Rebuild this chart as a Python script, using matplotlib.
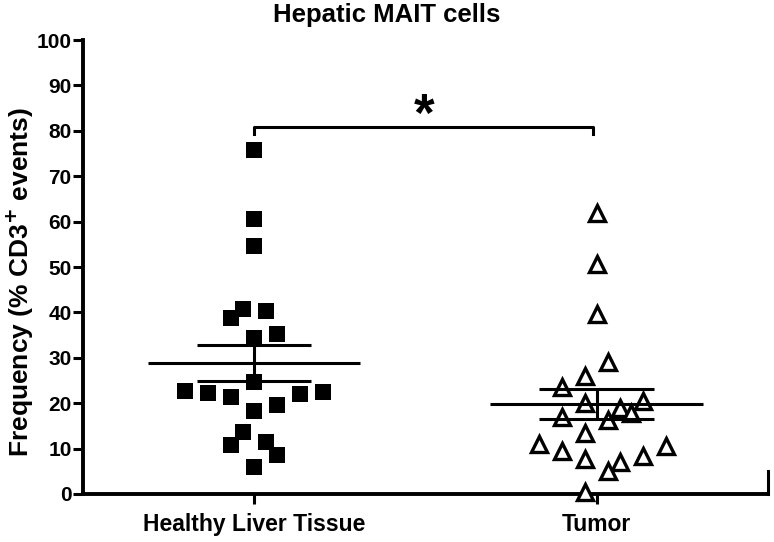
import numpy as np
import matplotlib
matplotlib.use('Agg')
import matplotlib.pyplot as plt

plt.rcParams['font.family'] = ['Liberation Sans', 'DejaVu Sans']
plt.rcParams['font.weight'] = 'bold'

groups = ['Healthy Liver Tissue', 'Tumor']

healthy = [75.8, 60.6, 54.6, 40.7, 38.8, 40.3, 35.2, 34.4, 24.7, 22.7, 22.2,
           21.4, 22.0, 22.5, 19.6, 18.3, 13.7, 10.8, 11.5, 8.6, 5.9]
# column slot of each point in the scatter (GraphPad style spread)
healthy_slot = [0, 0, 0, -1, -2, 1, 2, 0, 0, -6, -4,
                -2, 4, 6, 2, 0, -1, -2, 1, 2, 0]

tumor = [61.9, 50.7, 39.6, 29.1, 26.0, 23.6, 20.0, 17.0, 18.9, 17.8, 20.5,
         16.3, 13.4, 11.0, 9.5, 7.7, 7.0, 5.1, 8.4, 10.6, 0.4]
tumor_slot = [0, 0, 0, 1, -1, -3, -1, -3, 2, 3, 4,
              1, -1, -5, -3, -1, 2, 1, 4, 6, -1]

yticks = [0, 10, 20, 30, 40, 50, 60, 70, 80, 90, 100]

step = 0.0336

fig = plt.figure(figsize=(7.74, 5.42), dpi=100)
ax = fig.add_axes([0.107, 0.0886, 0.885, 0.8374])

for i, (vals, slots, mk, fc) in enumerate([(healthy, healthy_slot, 's', 'black'),
                                           (tumor, tumor_slot, '^', 'white')]):
    x = i + np.array(slots) * step
    ax.plot(x, vals, linestyle='none', marker=mk, markersize=11 if mk == 's' else 11.5,
            markerfacecolor=fc, markeredgecolor='black', markeredgewidth=0 if mk == 's' else 2.4,
            zorder=3, clip_on=False)
    v = np.array(vals)
    m = v.mean()
    sem = v.std(ddof=1) / np.sqrt(len(v))
    ax.hlines(m, i - 0.31, i + 0.31, color='black', lw=2.2, zorder=4)
    ax.hlines([m - sem, m + sem], i - 0.167, i + 0.167, color='black', lw=2.2, zorder=4)
    ax.vlines(i, m - sem, m + sem, color='black', lw=2.2, zorder=4)

# significance bracket
ax.plot([0, 0, 0.99, 0.99], [79.3, 80.8, 80.8, 79.3], color='black', lw=2.2)
ax.text(0.497, 83.0, '*', ha='center', va='center', fontsize=38, fontweight='bold')

ax.set_xlim(-0.5, 1.5)
ax.set_ylim(0, 100)
ax.set_xticks([0, 1])
ax.set_xticklabels(groups, fontsize=16.5, fontweight='bold')
ax.set_yticks(yticks)
ax.set_yticklabels([str(t) for t in yticks], fontsize=15, fontweight='bold')
ax.axvline(1.5, ymin=0, ymax=0.05, color='black', lw=2.2, clip_on=False)

for s in ['top', 'right']:
    ax.spines[s].set_visible(False)
for s in ['left', 'bottom']:
    ax.spines[s].set_linewidth(2.8)
ax.tick_params(axis='both', width=2.2, length=7, pad=1)
ax.tick_params(axis='x', pad=7)

ax.set_ylabel('Frequency (% CD3$^{\\mathbf{+}}$ events)', fontsize=19, fontweight='bold')
ax.yaxis.set_label_coords(-0.069, 0.466)
fig.text(0.5, 0.972, 'Hepatic MAIT cells', ha='center', va='center', fontsize=18.5, fontweight='bold')

plt.savefig('out.png', dpi=100)
